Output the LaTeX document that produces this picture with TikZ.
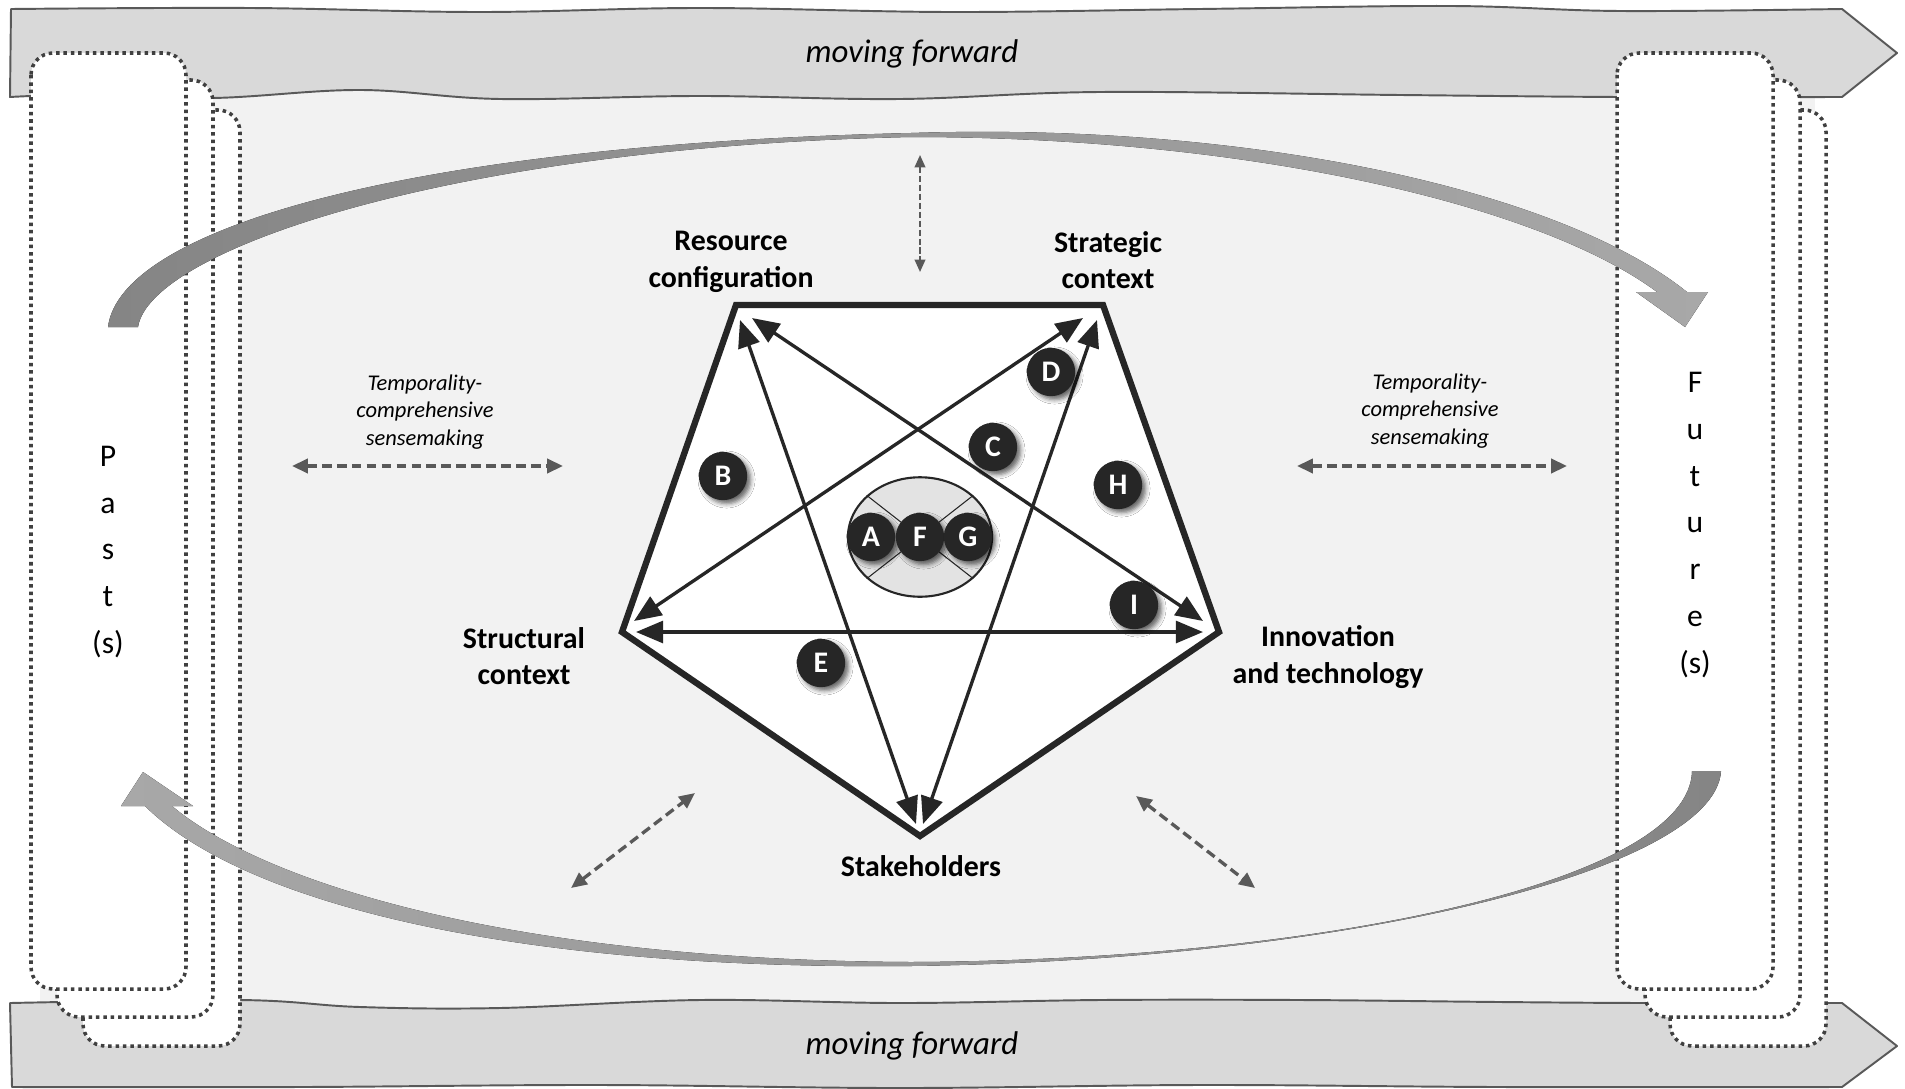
\documentclass[tikz,border=0pt]{standalone}
\usepackage{fontspec}
\setmainfont{Carlito}
\usetikzlibrary{arrows.meta,shadows.blur,shapes.geometric}

\definecolor{bgpanel}{HTML}{F2F2F2}
\definecolor{bandfill}{HTML}{D9D9D9}
\definecolor{bandline}{HTML}{595959}
\definecolor{dotline}{HTML}{595959}
\definecolor{frameline}{HTML}{404040}
\definecolor{ink}{HTML}{262626}
\definecolor{arcdark}{HTML}{858585}
\definecolor{arclight}{HTML}{A8A8A8}
\definecolor{hubfill}{HTML}{E3E3E3}

\begin{document}
\begin{tikzpicture}[x=0.02cm,y=-0.02cm,
  band/.style={fill=bandfill, draw=bandline, line width=1.1pt, line join=round},
  timeframe/.style={fill=white, draw=frameline, line width=2pt,
    dash pattern=on 2pt off 2.2pt, rounded corners=12.5pt},
  edge/.style={draw=ink, line width=1.9pt, <->,
    >={Triangle[length=15.5pt,width=12.5pt]}},
  linkarrow/.style={draw=dotline, line width=1.9pt, dash pattern=on 5.5pt off 3pt,
    <->, >={Triangle[length=9pt,width=8pt]}},
  thinarrow/.style={draw=dotline, line width=1.1pt, dash pattern=on 3.5pt off 1.6pt,
    <->, >={Triangle[length=7pt,width=6pt]}},
  corner/.style={font=\bfseries\fontsize{17}{20.7}\selectfont, align=center},
  sense/.style={font=\itshape\fontsize{12.8}{15.5}\selectfont, align=center},
  flow/.style={font=\itshape\fontsize{18.7}{22}\selectfont},
  timeword/.style={font=\fontsize{18}{26.6}\selectfont, align=center},
  badge/.style={circle, fill=ink, text=white, inner sep=0pt, minimum size=27.5pt,
    font=\bfseries\fontsize{17}{20}\selectfont,
    blur shadow={shadow xshift=2pt, shadow yshift=-2pt,
      shadow blur radius=2.5pt, shadow opacity=60}}
]
\useasboundingbox (0,0) rectangle (1905,1088);
\fill[white] (0,0) rectangle (1905,1088);

% central panel
\fill[bgpanel] (40,70) rectangle (1815,1020);

% "moving forward" bands
\draw[band] plot[smooth, tension=0.6] coordinates
  {(11,9) (250,8) (480,12) (700,8) (950,12) (1200,9) (1450,6) (1620,11) (1842,9)}
  -- (1897,53) -- (1842,97)
  -- plot[smooth, tension=0.6] coordinates
  {(1842,97) (1620,97) (1400,95) (1100,92) (900,99) (700,96) (500,99) (360,90) (213,98) (80,95) (10,97)}
  -- cycle;
\node[flow] (topflow) at (912,54) {moving forward};

\draw[band] plot[smooth, tension=0.6] coordinates
  {(10,1003) (240,1000) (360,1007) (500,1008) (700,1000) (900,1003) (1100,1000) (1300,1000) (1500,1002) (1645,1003) (1842,1003)}
  -- (1897,1046) -- (1842,1087)
  -- plot[smooth, tension=0.6] coordinates
  {(1842,1087) (1500,1087) (1200,1085) (900,1088) (600,1085) (300,1087) (12,1087)}
  -- cycle;
\node[flow] (bottomflow) at (912,1046) {moving forward};

% stacked time frames, left and right
\draw[timeframe] (83,110) rectangle (240,1046);
\draw[timeframe] (57,80) rectangle (213,1017);
\draw[timeframe] (31,53) rectangle (186,989);

\draw[timeframe] (1670,110) rectangle (1826,1046);
\draw[timeframe] (1645,80) rectangle (1800,1017);
\draw[timeframe] (1617,53) rectangle (1773,989);

% sweeping arrows around the model
\fill[left color=arcdark, right color=arclight]
  (108,327) .. controls (120,230) and (400,145) .. (911,133)
  .. controls (1250,122) and (1560,190) .. (1687,292)
  -- (1708,292) -- (1685,327) -- (1636,292) -- (1657,292)
  .. controls (1540,205) and (1250,137) .. (911,137)
  .. controls (450,147) and (150,250) .. (138,327) -- cycle;

\fill[left color=arclight, right color=arcdark]
  (1721,771) .. controls (1715,870) and (1350,960) .. (911,966)
  .. controls (500,970) and (240,900) .. (145,806)
  -- (121,806) -- (143,772) -- (193,806) -- (172,806)
  .. controls (260,880) and (500,960) .. (911,962)
  .. controls (1330,960) and (1690,880) .. (1692,771) -- cycle;

% past and future
\node[timeword] (past) at (108,552) {P\\a\\s\\t\\(s)};
\node[timeword] (future) at (1695,525) {F\\u\\t\\u\\r\\e\\(s)};

% pentagon
\coordinate (pTL) at (736,305);
\coordinate (pTR) at (1103,305);
\coordinate (pR) at (1219,632);
\coordinate (pB) at (920,836);
\coordinate (pL) at (622,632);
\draw[draw=ink, fill=white, line width=3.6pt, line join=miter]
  (pTL) -- (pTR) -- (pR) -- (pB) -- (pL) -- cycle;

% arrow ends inside the pentagon
\coordinate (tlB) at (740,320);
\coordinate (tlR) at (752,318);
\coordinate (trL) at (1083,318);
\coordinate (trB) at (1097,320);
\coordinate (lTR) at (634,621);
\coordinate (lR) at (636,632);
\coordinate (rTL) at (1203,621);
\coordinate (rL) at (1203,632);
\coordinate (bTL) at (916,824);
\coordinate (bTR) at (923,824);

% central hub
\node[ellipse, draw=ink, fill=hubfill, line width=1.2pt, minimum width=82pt,
  minimum height=68pt, inner sep=0pt] (hub) at (920,537) {};
\draw[ink, line width=0.6pt] (hub.142) -- (hub.-38);
\draw[ink, line width=0.6pt] (hub.38) -- (hub.-142);

% star of relations
\draw[edge] (tlB) -- (bTL);
\draw[edge] (tlR) -- (rTL);
\draw[edge] (trL) -- (lTR);
\draw[edge] (trB) -- (bTR);
\draw[edge] (lR) -- (rL);

% lettered badges
\node[badge] (bA) at (871,537) {A};
\node[badge] (bF) at (920,537) {F};
\node[badge] (bG) at (968,537) {G};
\node[badge] (bB) at (723,476) {B};
\node[badge] (bC) at (993,447) {C};
\node[badge] (bD) at (1051,372) {D};
\node[badge] (bH) at (1118,485) {H};
\node[badge] (bI) at (1134,605) {I};
\node[badge] (bE) at (821,663) {E};

% corner labels
\node[corner] (resource) at (731,262) {Resource\\configuration};
\node[corner] (strategic) at (1108,260) {Strategic\\context};
\node[corner] (structural) at (524,656) {Structural\\context};
\node[corner] (innovation) at (1328,657) {Innovation\\and technology};
\node[corner] (stake) at (921,866) {Stakeholders};

% sensemaking links
\node[sense] (senseL) at (425,412) {Temporality-\\comprehensive\\sensemaking};
\node[sense] (senseR) at (1430,411) {Temporality-\\comprehensive\\sensemaking};
\coordinate (hlA) at (292,466);
\coordinate (hlB) at (563,466);
\coordinate (hrA) at (1297,466);
\coordinate (hrB) at (1567,466);
\draw[linkarrow] (hlA) -- (hlB);
\draw[linkarrow] (hrA) -- (hrB);

\coordinate (vtA) at (920,155);
\coordinate (vtB) at (920,272);
\draw[thinarrow] (vtA) -- (vtB);

\coordinate (dlA) at (571,888);
\coordinate (dlB) at (695,793);
\coordinate (drA) at (1136,796);
\coordinate (drB) at (1255,888);
\draw[linkarrow] (dlA) -- (dlB);
\draw[linkarrow] (drA) -- (drB);
\end{tikzpicture}
\end{document}
